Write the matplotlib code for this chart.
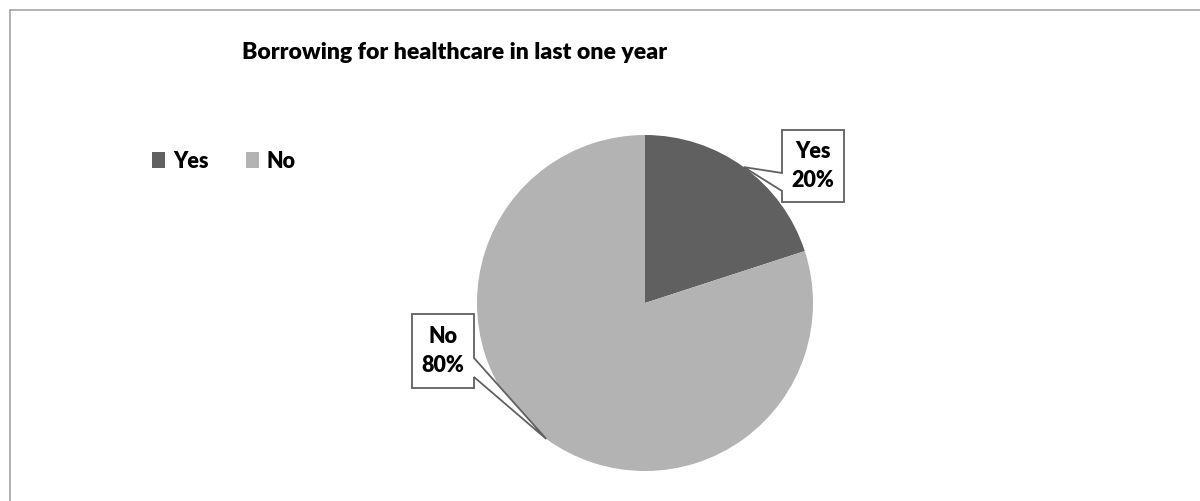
import matplotlib
matplotlib.use("Agg")
import matplotlib.pyplot as plt
import numpy as np
from matplotlib.patches import Polygon, Patch
from matplotlib.lines import Line2D

# Survey data
categories = ["Yes", "No"]
shares = [20, 80]
colors = ["#606060", "#b3b3b3"]
title = "Borrowing for healthcare in last one year"

W, H = 1200, 501
plt.rcParams["font.family"] = ["Lato", "DejaVu Sans"]
fig = plt.figure(figsize=(W / 100, H / 100), dpi=100)
fig.patch.set_facecolor("white")

# chart-area border (top and left edges visible)
fig.add_artist(Line2D([10 / W, 1.0], [1 - 10 / H, 1 - 10 / H], color="#a6a6a6", lw=1.2))
fig.add_artist(Line2D([10 / W, 10 / W], [0, 1 - 10 / H], color="#a6a6a6", lw=1.2))

# pie axes: centre (645, 303) px, radius 168 px
cx, cy, r = 645, 303, 168
ax = fig.add_axes([(cx - r) / W, (H - cy - r) / H, 2 * r / W, 2 * r / H])
wedges, _ = ax.pie(shares, colors=colors, startangle=90, counterclock=False,
                   radius=1.0, wedgeprops=dict(linewidth=0))
ax.set_xlim(-1, 1)
ax.set_ylim(-1, 1)
ax.set_aspect("equal")
ax.axis("off")

fig.text(455 / W, 1 - 59 / H, title, ha="center", va="baseline",
         fontsize=16.6, fontweight="heavy", color="black")

# callout boxes (data coords, px offsets converted by radius)
def px(dx, dy):
    return ((dx - cx) / r, (cy - dy) / r)

boxes = {
    # left, top, right, bottom in px; pointer base on box side
    "Yes": dict(rect=(782, 130, 844, 202), side="left", base=(173, 191)),
    "No": dict(rect=(412, 314, 474, 388), side="right", base=(358, 377)),
}

total = float(sum(shares))
start = 90.0
for name, val in zip(categories, shares):
    sweep = 360.0 * val / total
    mid = np.deg2rad(start - sweep / 2)
    start -= sweep
    tip = (np.cos(mid), np.sin(mid))
    b = boxes[name]
    l, t, rr, bt = b["rect"]
    b0, b1 = b["base"]
    if b["side"] == "left":
        pts = [px(l, t), px(rr, t), px(rr, bt), px(l, bt), px(l, b1), tip, px(l, b0)]
    else:
        pts = [px(l, t), px(rr, t), px(rr, b0), tip, px(rr, b1), px(rr, bt), px(l, bt)]
    ax.add_patch(Polygon(pts, closed=True, facecolor="white", edgecolor="#606060",
                         lw=1.3, clip_on=False, zorder=5))
    tx, ty = px((l + rr) / 2, (t + bt) / 2)
    ax.text(tx, ty, f"{name}\n{val}%", ha="center", va="center", fontsize=15.5,
            fontweight="heavy", linespacing=1.45, zorder=6, clip_on=False)

handles = [Patch(facecolor=c, edgecolor="none") for c in colors]
leg = fig.legend(handles, categories, loc="center left",
                 bbox_to_anchor=(133 / W, 1 - 161 / H), ncol=2, frameon=False,
                 handlelength=0.6, handleheight=0.7, handletextpad=0.35,
                 columnspacing=1.75, prop=dict(size=15.5, weight="heavy"))

fig.savefig("out.png", dpi=100, facecolor="white")
